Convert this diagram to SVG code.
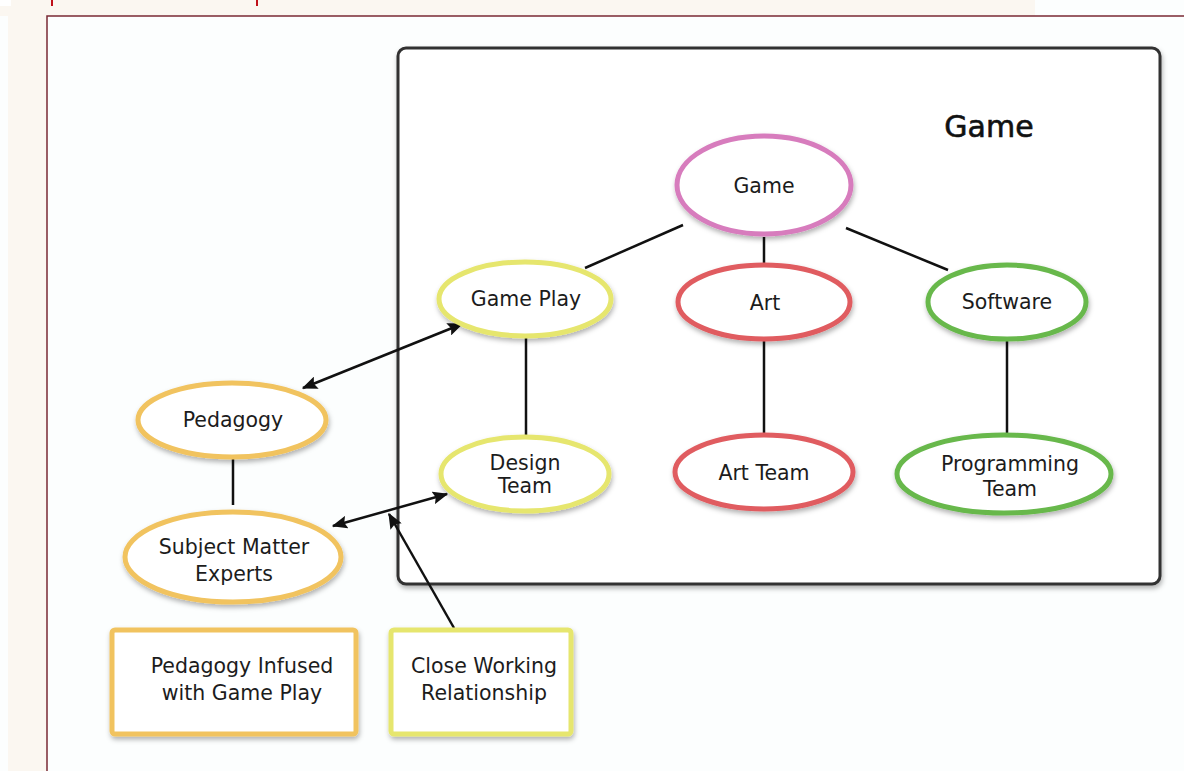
<svg xmlns="http://www.w3.org/2000/svg" width="1184" height="771" viewBox="0 0 1184 771">
<style>
.lbl{font-family:"DejaVu Sans",sans-serif;font-size:20.5px;fill:#1c1c1c;text-anchor:middle}
.title{font-family:"DejaVu Sans",sans-serif;font-size:30px;fill:#111;stroke:#111;stroke-width:0.6;text-anchor:middle}
.node{fill:#fff;stroke-width:5;filter:url(#sh)}
.pink{stroke:#d77cbd}
.yellow{stroke:#e6e66e}
.red{stroke:#e05c60}
.green{stroke:#67b84c}
.orange{stroke:#f1c35e}
.conn line{stroke:#111;stroke-width:2.5}
</style>
<defs>
<filter id="sh" x="-20%" y="-20%" width="140%" height="150%">
<feDropShadow dx="1" dy="3" stdDeviation="2.5" flood-color="#000" flood-opacity="0.3"/>
</filter>
<marker id="ah2" viewBox="0 0 12 10" refX="11" refY="5" markerWidth="16" markerHeight="13" orient="auto-start-reverse" markerUnits="userSpaceOnUse">
<path d="M0,0 L12,5 L0,10 L2,5 z" fill="#111"/>
</marker>
</defs>
<rect x="0" y="0" width="1184" height="771" fill="#fcfefe"/>
<rect x="0" y="0" width="1035" height="16" fill="#fbf7f1"/>
<rect x="8" y="16" width="39" height="755" fill="#fbf7f1"/>
<rect x="0" y="0" width="11" height="6" fill="#fff"/>
<line x1="52" y1="0" x2="52" y2="6" stroke="#c0101a" stroke-width="2"/>
<line x1="257" y1="0" x2="257" y2="6" stroke="#c0101a" stroke-width="2"/>
<rect x="47" y="16" width="1150" height="770" fill="#fcfefe" stroke="#7a2a34" stroke-width="1.5"/>

<g id="gamebox">
<rect x="398" y="48" width="762" height="536" rx="8" fill="#fff" stroke="#333" stroke-width="3" filter="url(#sh)"/>
<text class="title" x="989" y="137">Game</text>
</g>

<g class="conn" id="connectors">
<line x1="683" y1="225" x2="585" y2="268"/>
<line x1="764" y1="237" x2="764" y2="264"/>
<line x1="846" y1="228" x2="948" y2="270"/>
<line x1="526" y1="337" x2="526" y2="436"/>
<line x1="764" y1="340" x2="764" y2="434"/>
<line x1="1007" y1="340" x2="1007" y2="433"/>
<line x1="233" y1="459" x2="233" y2="505"/>
<line x1="303" y1="388" x2="462" y2="324" marker-start="url(#ah2)" marker-end="url(#ah2)"/>
<line x1="333" y1="526" x2="447" y2="494" marker-start="url(#ah2)" marker-end="url(#ah2)"/>
<line x1="454" y1="628" x2="389" y2="514" marker-end="url(#ah2)"/>
</g>

<g id="game"><ellipse class="node pink" cx="764" cy="185" rx="87" ry="49"/><text class="lbl" x="764" y="193">Game</text></g>
<g id="gameplay"><ellipse class="node yellow" cx="525" cy="299" rx="86" ry="37"/><text class="lbl" x="526" y="306">Game Play</text></g>
<g id="art"><ellipse class="node red" cx="764" cy="302" rx="86" ry="37"/><text class="lbl" x="765" y="310">Art</text></g>
<g id="software"><ellipse class="node green" cx="1007" cy="302" rx="79" ry="37"/><text class="lbl" x="1007" y="309">Software</text></g>
<g id="designteam"><ellipse class="node yellow" cx="525" cy="474" rx="84" ry="37"/><text class="lbl" x="525" y="470">Design</text><text class="lbl" x="525" y="493">Team</text></g>
<g id="artteam"><ellipse class="node red" cx="764" cy="472" rx="89" ry="37"/><text class="lbl" x="764" y="480">Art Team</text></g>
<g id="progteam"><ellipse class="node green" cx="1004" cy="474" rx="107" ry="39"/><text class="lbl" x="1010" y="471">Programming</text><text class="lbl" x="1010" y="496">Team</text></g>
<g id="pedagogy"><ellipse class="node orange" cx="232" cy="420" rx="94" ry="37"/><text class="lbl" x="233" y="427">Pedagogy</text></g>
<g id="sme"><ellipse class="node orange" cx="233" cy="557" rx="108" ry="45"/><text class="lbl" x="234" y="554">Subject Matter</text><text class="lbl" x="234" y="581">Experts</text></g>
<g id="pedinfused"><rect class="node orange" x="112" y="630" width="244" height="104" rx="3"/><text class="lbl" x="242" y="673">Pedagogy Infused</text><text class="lbl" x="242" y="700">with Game Play</text></g>
<g id="closework"><rect class="node yellow" x="391" y="630" width="180" height="104" rx="3"/><text class="lbl" x="484" y="673">Close Working</text><text class="lbl" x="484" y="700">Relationship</text></g>
</svg>
